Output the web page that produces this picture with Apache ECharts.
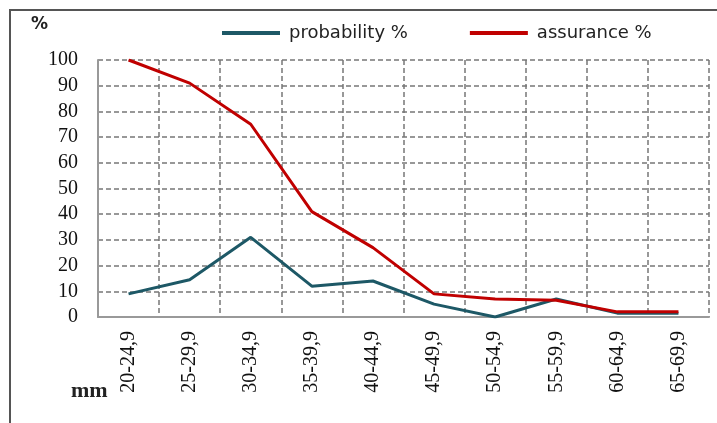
<!DOCTYPE html>
<html>
<head>
<meta charset="utf-8">
<script src="https://cdn.jsdelivr.net/npm/echarts@6/dist/echarts.min.js"></script>
<style>
  html, body { margin: 0; padding: 0; background: #fff; }
  #chart { width: 717px; height: 423px; }
</style>
</head>
<body>
<div id="chart"></div>
<script>
const categories = ['20-24,9', '25-29,9', '30-34,9', '35-39,9', '40-44,9',
  '45-49,9', '50-54,9', '55-59,9', '60-64,9', '65-69,9'];
const probability = [9, 14.5, 31, 12, 14, 5, 0, 7, 1.5, 1.5];
const assurance = [100, 91, 75, 41, 27, 9, 7, 6.5, 2, 2];
const yTicks = [0, 10, 20, 30, 40, 50, 60, 70, 80, 90, 100];

const chart = echarts.init(document.getElementById('chart'));

chart.setOption({
  animation: false,
  grid: { left: 98, right: 8, top: 60, bottom: 106 },
  legend: {
    top: 19, left: 217, itemWidth: 58, itemHeight: 4, itemGap: 62,
    icon: 'rect',
    textStyle: { fontFamily: 'DejaVu Sans', fontSize: 18, color: '#222', padding: [0, 0, 0, 4] },
    data: ['probability %', 'assurance %']
  },
  graphic: [
    { type: 'line', shape: { x1: 9, y1: 10, x2: 717, y2: 10 }, style: { stroke: '#555', lineWidth: 2 } },
    { type: 'line', shape: { x1: 10, y1: 10, x2: 10, y2: 423 }, style: { stroke: '#555', lineWidth: 2 } },
    { type: 'text', left: 31, top: 16, style: { text: '%', font: 'bold 17px "DejaVu Sans"', fill: '#222' } },
    { type: 'text', left: 71, top: 380, style: { text: 'mm', font: 'bold 22px "Liberation Serif"', fill: '#222' } }
  ],
  xAxis: {
    type: 'category',
    data: categories,
    boundaryGap: true,
    axisLine: { lineStyle: { color: '#999', width: 2 } },
    axisTick: { show: false },
    axisLabel: { rotate: 90, margin: 14, fontFamily: 'Liberation Serif', fontSize: 20, color: '#111' },
    splitLine: { show: true, lineStyle: { color: '#777', type: [5, 3], width: 1.5 } }
  },
  yAxis: {
    type: 'value',
    min: 0, max: 100, interval: 10,
    axisLine: { show: true, lineStyle: { color: '#999', width: 2 } },
    axisTick: { show: false },
    axisLabel: {
      margin: 20, fontFamily: 'Liberation Serif', fontSize: 20, color: '#111',
      formatter: v => yTicks.includes(v) ? String(v) : ''
    },
    splitLine: { lineStyle: { color: '#777', type: [5, 3], width: 1.5 } }
  },
  series: [
    {
      name: 'probability %', type: 'line', data: probability,
      symbol: 'none', color: '#1d5866',
      lineStyle: { color: '#1d5866', width: 3 }
    },
    {
      name: 'assurance %', type: 'line', data: assurance,
      symbol: 'none', color: '#c00000',
      lineStyle: { color: '#c00000', width: 3 }
    }
  ]
});
</script>
</body>
</html>
